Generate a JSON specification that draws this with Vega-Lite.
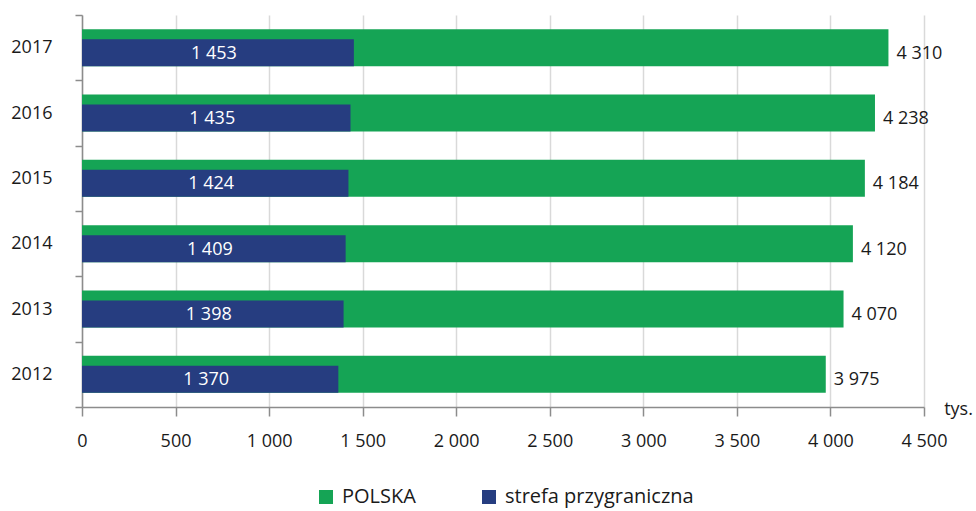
{
  "$schema": "https://vega.github.io/schema/vega-lite/v6.json",
  "width": 842,
  "height": 392,
  "autosize": "none",
  "padding": {"left": 82, "top": 15, "right": 52, "bottom": 104},
  "config": {
    "font": "Open Sans",
    "view": {"stroke": null},
    "locale": {"number": {"decimal": ",", "thousands": " ", "grouping": [3], "currency": ["", ""]}},
    "axis": {"labelFontSize": 18, "labelColor": "#1a1a1a", "domainColor": "#8c8c8c", "tickColor": "#8c8c8c", "domainWidth": 1.5, "tickWidth": 1.5}
  },
  "data": {
    "values": [
      {"year": "2012", "series": "POLSKA", "value": 3975},
      {"year": "2013", "series": "POLSKA", "value": 4070},
      {"year": "2014", "series": "POLSKA", "value": 4120},
      {"year": "2015", "series": "POLSKA", "value": 4184},
      {"year": "2016", "series": "POLSKA", "value": 4238},
      {"year": "2017", "series": "POLSKA", "value": 4310},
      {"year": "2012", "series": "strefa przygraniczna", "value": 1370},
      {"year": "2013", "series": "strefa przygraniczna", "value": 1398},
      {"year": "2014", "series": "strefa przygraniczna", "value": 1409},
      {"year": "2015", "series": "strefa przygraniczna", "value": 1424},
      {"year": "2016", "series": "strefa przygraniczna", "value": 1435},
      {"year": "2017", "series": "strefa przygraniczna", "value": 1453}
    ]
  },
  "encoding": {
    "y": {
      "field": "year", "type": "ordinal", "sort": "descending",
      "scale": {"paddingInner": 0, "paddingOuter": 0},
      "axis": {"title": null, "tickBand": "extent", "tickSize": 7, "labelPadding": 23, "grid": false}
    }
  },
  "layer": [
    {
      "transform": [{"filter": "datum.series === 'POLSKA'"}],
      "mark": {"type": "bar", "size": 37},
      "encoding": {
        "x": {
          "field": "value", "type": "quantitative",
          "scale": {"domain": [0, 4500], "nice": false},
          "axis": {
            "values": [0, 500, 1000, 1500, 2000, 2500, 3000, 3500, 4000, 4500],
            "format": ",d", "grid": true, "gridColor": "#d9d9d9", "gridWidth": 1.5,
            "tickSize": 9, "labelPadding": 16, "labelFlush": false,
            "title": "tys.", "titleFontSize": 18, "titleFontWeight": "normal", "titleColor": "#1a1a1a",
            "titleAlign": "center", "titleBaseline": "alphabetic", "titleX": 876, "titleY": 7
          }
        },
        "color": {
          "field": "series", "type": "nominal",
          "scale": {"domain": ["POLSKA", "strefa przygraniczna"], "range": ["#15a455", "#263d80"]},
          "legend": {
            "orient": "none", "legendX": 234, "legendY": 472, "padding": 0,
            "direction": "horizontal", "title": null,
            "symbolType": "square", "symbolSize": 196, "symbolStrokeWidth": 0,
            "labelFontSize": 20, "labelColor": "#1a1a1a", "labelLimit": 400,
            "columnPadding": 63, "labelOffset": 6
          }
        }
      }
    },
    {
      "transform": [{"filter": "datum.series !== 'POLSKA'"}],
      "mark": {"type": "bar", "size": 27, "yOffset": 5},
      "encoding": {
        "x": {"field": "value", "type": "quantitative"},
        "color": {"field": "series", "type": "nominal"}
      }
    },
    {
      "transform": [{"filter": "datum.series !== 'POLSKA'"}],
      "mark": {"type": "text", "color": "white", "fontSize": 18, "yOffset": 6, "dx": -4, "baseline": "middle"},
      "encoding": {
        "x": {"field": "value", "type": "quantitative", "stack": "zero", "bandPosition": 0.5},
        "detail": {"field": "series"},
        "text": {"field": "value", "type": "quantitative", "format": ",d"}
      }
    },
    {
      "transform": [{"filter": "datum.series === 'POLSKA'"}],
      "mark": {"type": "text", "color": "#1a1a1a", "fontSize": 18, "yOffset": 6, "dx": 8, "align": "left", "baseline": "middle"},
      "encoding": {
        "x": {"field": "value", "type": "quantitative"},
        "text": {"field": "value", "type": "quantitative", "format": ",d"}
      }
    }
  ]
}
